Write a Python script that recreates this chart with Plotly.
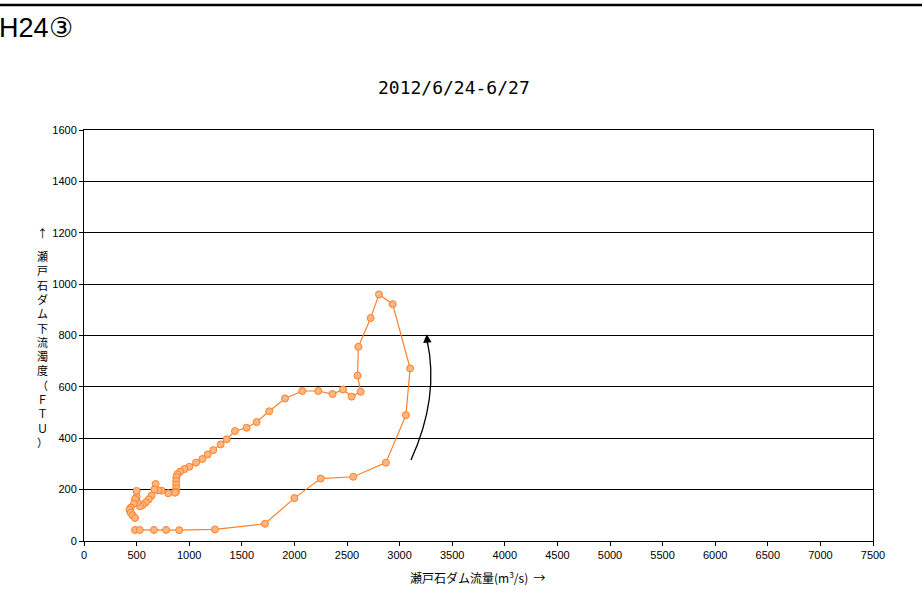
import plotly.graph_objects as go

# Data: Setoishi dam flow (m3/s) vs downstream turbidity (FTU), 2012/6/24-6/27
flow = [485, 530, 665, 780, 905, 1245, 1720, 2000, 2250, 2560, 2870, 3060, 3100,
        2934, 2804, 2725, 2608, 2600, 2630, 2545, 2462, 2363, 2227, 2075, 1911,
        1760, 1641, 1546, 1435, 1356, 1299, 1229, 1176, 1125, 1065, 1001, 954,
        913, 887, 878, 876, 876, 876, 874, 865, 801, 738, 706, 681, 669, 643,
        616, 587, 556, 532, 510, 500, 500, 485, 475, 445, 432, 444, 462, 485]
turbidity = [43, 43, 43, 43, 42, 45, 67, 167, 243, 250, 305, 490, 672,
             922, 960, 868, 756, 644, 581, 562, 590, 572, 584, 584, 555,
             505, 463, 441, 428, 396, 376, 354, 337, 319, 305, 289, 280,
             270, 260, 248, 235, 220, 205, 192, 188, 186, 196, 197, 222, 200, 177,
             162, 150, 140, 135, 150, 172, 195, 163, 145, 130, 122, 110, 100, 90]

x_ticks = list(range(0, 7501, 500))
y_ticks = list(range(0, 1601, 200))

page_label = "H24③"
chart_title = "2012/6/24-6/27"
x_title = "瀬戸石ダム流量(m<sup>3</sup>/s)  →"
y_title_chars = list("瀬戸石ダム下流濁度（ＦＴＵ）")

W, H = 922, 607
L, R, T, B = 84, 49, 130, 66
pw, ph = W - L - R, H - T - B

def px2paper_x(px):
    return (px - L) / pw

def px2paper_y(py):
    return (H - B - py) / ph

narrow = "Liberation Sans Narrow, Arial Narrow, Liberation Sans, sans-serif"

fig = go.Figure()
fig.add_trace(go.Scatter(
    x=flow, y=turbidity, mode="lines+markers",
    line=dict(color="rgb(255,128,40)", width=1.2),
    marker=dict(symbol="circle", size=7, color="rgb(255,182,128)",
                line=dict(color="rgb(255,128,40)", width=1)),
    showlegend=False, hoverinfo="x+y"))

fig.update_xaxes(range=[0, 7500], tickvals=x_ticks, ticktext=[str(v) for v in x_ticks],
                 showgrid=False, zeroline=False, showline=True, linecolor="black",
                 linewidth=1, mirror=True, ticks="outside", ticklen=4, tickcolor="black",
                 tickfont=dict(family=narrow, size=11, color="black"))
fig.update_yaxes(range=[0, 1600], tickvals=y_ticks, ticktext=[str(v) for v in y_ticks],
                 showgrid=True, gridcolor="black", gridwidth=1, zeroline=False,
                 showline=True, linecolor="black", linewidth=1, mirror=True,
                 ticks="outside", ticklen=4, tickcolor="black",
                 tickfont=dict(family=narrow, size=11, color="black"))

annotations = [
    dict(text=page_label, xref="paper", yref="paper", x=px2paper_x(-3), y=px2paper_y(28),
         xanchor="left", yanchor="middle", showarrow=False,
         font=dict(family=narrow, size=27, color="black")),
    dict(text=chart_title, xref="paper", yref="paper", x=px2paper_x(454), y=px2paper_y(88),
         xanchor="center", yanchor="middle", showarrow=False,
         font=dict(family="DejaVu Sans Mono", size=18, color="black")),
    dict(text=x_title, xref="paper", yref="paper", x=px2paper_x(478), y=px2paper_y(577),
         xanchor="center", yanchor="middle", showarrow=False,
         font=dict(family="Noto Sans CJK JP", size=12, color="black")),
    dict(text="↑", xref="paper", yref="paper", x=px2paper_x(42), y=px2paper_y(233),
         xanchor="center", yanchor="middle", showarrow=False,
         font=dict(family="Noto Sans CJK JP", size=11, color="black")),
    dict(text="<br>".join(y_title_chars), xref="paper", yref="paper",
         x=px2paper_x(42), y=px2paper_y(349), xanchor="center", yanchor="middle",
         showarrow=False, font=dict(family="Noto Sans CJK JP", size=11, color="black")),
    # arrow head showing direction of the loop
    dict(x=3258, y=805, ax=3266, ay=760, xref="x", yref="y", axref="x", ayref="y",
         text="", showarrow=True, arrowhead=2, arrowsize=1.3, arrowwidth=1.3,
         arrowcolor="black"),
]

shapes = [
    dict(type="line", xref="paper", yref="paper", x0=px2paper_x(0), x1=px2paper_x(922),
         y0=px2paper_y(5), y1=px2paper_y(5), line=dict(color="black", width=2.5)),
    dict(type="path", xref="x", yref="y", path="M 3108,315 Q 3380,560 3262,780",
         line=dict(color="black", width=1.3)),
]

fig.update_layout(width=W, height=H, margin=dict(l=L, r=R, t=T, b=B),
                  paper_bgcolor="white", plot_bgcolor="white",
                  annotations=annotations, shapes=shapes)

fig.write_html("out.html", config={"displayModeBar": False},
               post_script="document.body.style.margin='0px';document.body.style.overflow='hidden';")
